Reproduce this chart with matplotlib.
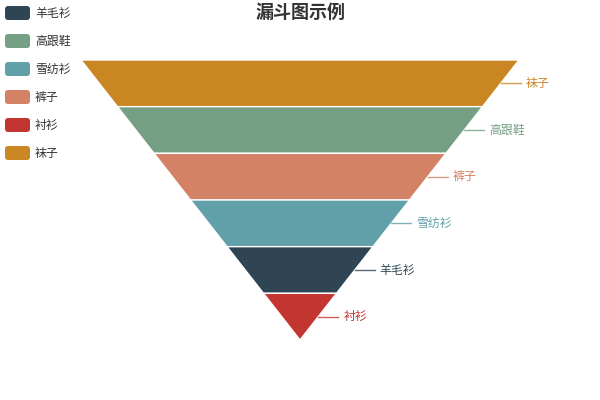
import matplotlib
matplotlib.use('Agg')
import matplotlib.pyplot as plt
from matplotlib.patches import FancyBboxPatch

plt.rcParams['font.family'] = ['Noto Sans CJK SC', 'DejaVu Sans']

title = '漏斗图示例'
legend_names = ['羊毛衫', '高跟鞋', '雪纺衫', '裤子', '衬衫', '袜子']
legend_colors = ['#2f4554', '#749f83', '#61a0a8', '#d48265', '#c23531', '#ca8622']
# funnel data, sorted descending as drawn
names = ['袜子', '高跟鞋', '裤子', '雪纺衫', '羊毛衫', '衬衫']
values = [60, 50, 40, 30, 20, 10]
vmax = 60

colors = dict(zip(legend_names, legend_colors))

fig = plt.figure(figsize=(6, 4), dpi=100)
ax = fig.add_axes([0, 0, 1, 1])
ax.set_xlim(0, 600)
ax.set_ylim(400, 0)
ax.axis('off')

# funnel layout (pixels)
left, top, width, height = 81, 60, 438, 280
cx = left + width / 2
seg_h = height / len(values)

for i, (name, v) in enumerate(zip(names, values)):
    w_top = v / vmax * width
    w_bot = values[i + 1] / vmax * width if i + 1 < len(values) else 0
    y0 = top + i * seg_h
    y1 = y0 + seg_h
    xs = [cx - w_top / 2, cx + w_top / 2, cx + w_bot / 2, cx - w_bot / 2]
    ys = [y0, y0, y1, y1]
    ax.fill(xs, ys, color=colors[name], ec='white', lw=1)
    # label
    ym = (y0 + y1) / 2
    xr = cx + (w_top + w_bot) / 4
    ax.plot([xr, xr + 20], [ym, ym], color=colors[name], lw=1, alpha=0.8)
    ax.text(xr + 25, ym, name, color=colors[name], fontsize=8.6,
            va='center', ha='left')

ax.text(300, 12, title, fontsize=13, fontweight='bold', color='#333333',
        ha='center', va='center')

for i, (name, c) in enumerate(zip(legend_names, legend_colors)):
    y = 13 + i * 28
    ax.add_patch(FancyBboxPatch((5, y - 7), 25, 14,
                                boxstyle='round,pad=0,rounding_size=3',
                                fc=c, ec='none'))
    ax.text(35, y, name, fontsize=8.6, color='#333333', va='center', ha='left')

fig.savefig('out.png', dpi=100)
